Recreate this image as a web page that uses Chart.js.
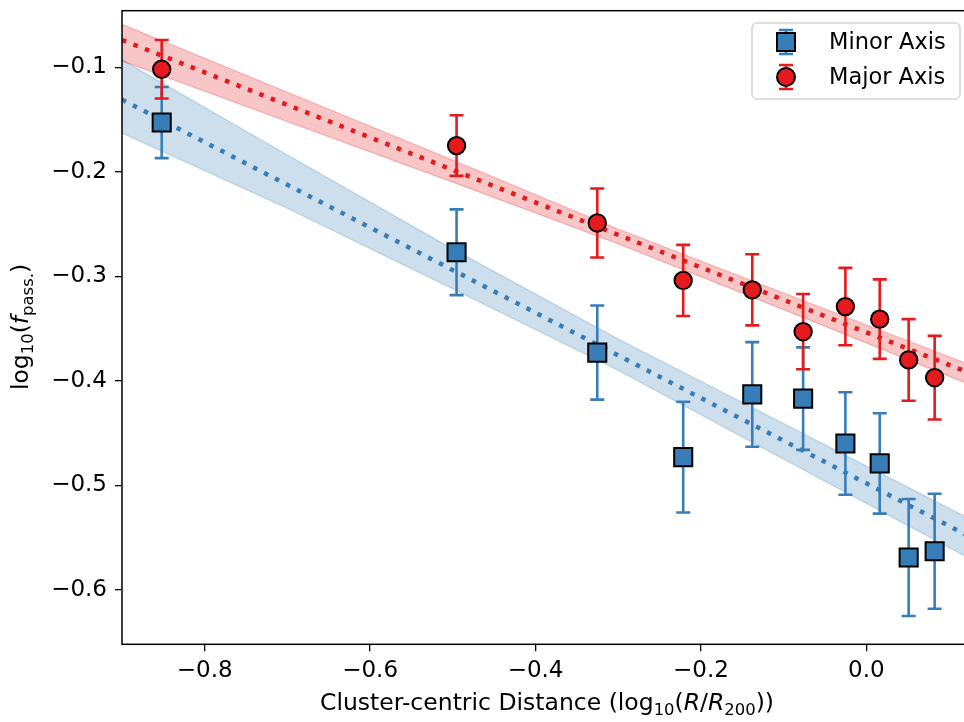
<!DOCTYPE html>
<html>
<head>
<meta charset="utf-8">
<script src="https://cdn.jsdelivr.net/npm/chart.js@4.4.1/dist/chart.umd.min.js"></script>
<style>
  html, body { margin: 0; padding: 0; background: #fff; }
  canvas { display: block; }
</style>
</head>
<body>
<canvas id="fpassChart" width="964" height="722"></canvas>
<script>
// radial bins (log10 R/R200)
const binX = [-0.852, -0.4955, -0.3254, -0.2215, -0.138, -0.0765, -0.0254, 0.0161, 0.0511, 0.0825];

// log10 passive fraction per bin, with symmetric errors
const minorY = [-0.153, -0.277, -0.373, -0.473, -0.413, -0.417, -0.460, -0.479, -0.569, -0.563];
const minorErr = [0.034, 0.041, 0.045, 0.053, 0.050, 0.049, 0.049, 0.048, 0.056, 0.055];
const majorY = [-0.102, -0.175, -0.249, -0.304, -0.313, -0.353, -0.329, -0.341, -0.380, -0.397];
const majorErr = [0.028, 0.029, 0.033, 0.034, 0.034, 0.036, 0.037, 0.038, 0.039, 0.040];

// best-fit lines
const fitX = [-0.9, 0.12];
const minorFitY = [-0.131, -0.547];
const majorFitY = [-0.074, -0.391];

// fit confidence bands
const bandX = [-0.9, -0.7, -0.5, -0.3, -0.1, 0.12];
const minorBandHi = [-0.093, -0.184, -0.274, -0.360, -0.441, -0.530];
const minorBandLo = [-0.163, -0.235, -0.312, -0.390, -0.475, -0.568];
const majorBandHi = [-0.059, -0.124, -0.189, -0.255, -0.316, -0.383];
const majorBandLo = [-0.094, -0.152, -0.210, -0.269, -0.332, -0.402];

const xTicksStep = 0.2;
const yTicksStep = 0.1;

const BLUE = '#377eb8';
const RED = '#e41a1c';
const FONT = "'DejaVu Sans', sans-serif";

const pts = (xs, ys) => xs.map((x, i) => ({ x: x, y: ys[i] }));
const fmt = v => v.toFixed(1).replace('-', '\u2212');

// vertical error bars with caps, drawn just before each marker dataset
const errorBars = {
  id: 'errorBars',
  beforeDatasetDraw(chart, args) {
    const ds = chart.data.datasets[args.index];
    if (!ds.errors) return;
    const { ctx, scales: { x, y } } = chart;
    ctx.save();
    ctx.strokeStyle = ds.errColor;
    ctx.lineWidth = 2.6;
    ds.data.forEach((p, i) => {
      const px = x.getPixelForValue(p.x);
      const top = y.getPixelForValue(p.y + ds.errors[i]);
      const bot = y.getPixelForValue(p.y - ds.errors[i]);
      ctx.beginPath();
      ctx.moveTo(px, top); ctx.lineTo(px, bot);
      ctx.moveTo(px - 7, top); ctx.lineTo(px + 7, top);
      ctx.moveTo(px - 7, bot); ctx.lineTo(px + 7, bot);
      ctx.stroke();
    });
    ctx.restore();
  }
};

function drawRich(ctx, parts, size) {
  // parts: [text, kind] where kind is '', 'it' or 'sub'
  const fontFor = k => k === 'sub' ? `${size * 0.7}px ${FONT}` :
    k === 'it' ? `oblique ${size}px ${FONT}` : `${size}px ${FONT}`;
  let total = 0;
  parts.forEach(([t, k]) => { ctx.font = fontFor(k); total += ctx.measureText(t).width; });
  let cx = -total / 2;
  parts.forEach(([t, k]) => {
    ctx.font = fontFor(k);
    ctx.fillText(t, cx, k === 'sub' ? size * 0.28 : 0);
    cx += ctx.measureText(t).width;
  });
}

// frame, axis titles and legend
const decorations = {
  id: 'decorations',
  afterDraw(chart) {
    const { ctx, chartArea: a } = chart;
    ctx.save();
    ctx.strokeStyle = '#000';
    ctx.lineWidth = 1.5;
    ctx.strokeRect(a.left, a.top, a.right - a.left + 2, a.bottom - a.top);

    ctx.fillStyle = '#000';
    ctx.textBaseline = 'middle';
    ctx.textAlign = 'left';
    ctx.save();
    ctx.translate(547, 704);
    drawRich(ctx, [['Cluster-centric Distance (log', ''], ['10', 'sub'], ['(', ''], ['R', 'it'],
      ['/', ''], ['R', 'it'], ['200', 'sub'], ['))', '']], 23.5);
    ctx.restore();
    ctx.save();
    ctx.translate(22, 327);
    ctx.rotate(-Math.PI / 2);
    drawRich(ctx, [['log', ''], ['10', 'sub'], ['(', ''], ['f', 'it'], ['pass.', 'sub'], [')', '']], 23.5);
    ctx.restore();

    // legend box
    const bx = 752, by = 23, bw = 208, bh = 76;
    ctx.beginPath();
    ctx.roundRect(bx, by, bw, bh, 5);
    ctx.fillStyle = 'rgba(255,255,255,0.8)';
    ctx.fill();
    ctx.strokeStyle = '#d4d4d4';
    ctx.lineWidth = 1.5;
    ctx.stroke();

    const entries = chart.data.datasets.filter(d => d.errors);
    entries.sort((p, q) => p.legendRank - q.legendRank);
    entries.forEach((d, i) => {
      const mx = 786, my = 42 + i * 35;
      ctx.strokeStyle = d.errColor;
      ctx.lineWidth = 2.6;
      ctx.beginPath();
      ctx.moveTo(mx, my - 12); ctx.lineTo(mx, my + 12);
      ctx.moveTo(mx - 7, my - 12); ctx.lineTo(mx + 7, my - 12);
      ctx.moveTo(mx - 7, my + 12); ctx.lineTo(mx + 7, my + 12);
      ctx.stroke();
      ctx.fillStyle = d.backgroundColor;
      ctx.strokeStyle = '#000';
      ctx.lineWidth = 2;
      ctx.beginPath();
      if (d.pointStyle === 'rect') ctx.rect(mx - 9, my - 9, 18, 18);
      else ctx.arc(mx, my, 9, 0, Math.PI * 2);
      ctx.fill();
      ctx.stroke();
      ctx.fillStyle = '#000';
      ctx.font = `22.5px ${FONT}`;
      ctx.textBaseline = 'middle';
      ctx.fillText(d.label, 829, my + 1);
    });
    ctx.restore();
  }
};

const tickFont = { family: FONT, size: 23 };

new Chart(document.getElementById('fpassChart'), {
  type: 'scatter',
  data: {
    datasets: [
      {
        label: 'Major Axis',
        data: pts(binX, majorY),
        errors: majorErr,
        errColor: RED,
        legendRank: 1,
        pointStyle: 'circle',
        pointRadius: 8.7,
        backgroundColor: RED,
        borderColor: '#000',
        borderWidth: 2,
        order: 0
      },
      {
        label: 'Minor Axis',
        data: pts(binX, minorY),
        errors: minorErr,
        errColor: BLUE,
        legendRank: 0,
        pointStyle: 'rect',
        pointRadius: 12.8,
        backgroundColor: BLUE,
        borderColor: '#000',
        borderWidth: 2,
        order: 1
      },
      {
        label: 'major fit',
        type: 'line',
        data: pts(fitX, majorFitY),
        borderColor: RED,
        borderWidth: 4.5,
        borderDash: [4.5, 7.8],
        pointRadius: 0,
        fill: false,
        order: 4
      },
      {
        label: 'minor fit',
        type: 'line',
        data: pts(fitX, minorFitY),
        borderColor: BLUE,
        borderWidth: 4.5,
        borderDash: [4.5, 7.8],
        pointRadius: 0,
        fill: false,
        order: 5
      },
      {
        label: 'major band hi',
        type: 'line',
        data: pts(bandX, majorBandHi),
        borderColor: 'rgba(228,26,28,0.25)',
        borderWidth: 1.3,
        backgroundColor: 'rgba(228,26,28,0.25)',
        pointRadius: 0,
        fill: '+1',
        order: 8
      },
      {
        label: 'major band lo',
        type: 'line',
        data: pts(bandX, majorBandLo),
        borderColor: 'rgba(228,26,28,0.25)',
        borderWidth: 1.3,
        pointRadius: 0,
        fill: false,
        order: 8
      },
      {
        label: 'minor band hi',
        type: 'line',
        data: pts(bandX, minorBandHi),
        borderColor: 'rgba(55,126,184,0.25)',
        borderWidth: 1.3,
        backgroundColor: 'rgba(55,126,184,0.25)',
        pointRadius: 0,
        fill: '+1',
        order: 9
      },
      {
        label: 'minor band lo',
        type: 'line',
        data: pts(bandX, minorBandLo),
        borderColor: 'rgba(55,126,184,0.25)',
        borderWidth: 1.3,
        pointRadius: 0,
        fill: false,
        order: 9
      }
    ]
  },
  options: {
    responsive: false,
    animation: false,
    devicePixelRatio: 1,
    layout: { autoPadding: false, padding: { top: 10.7, left: 0, right: 0, bottom: 0 } },
    plugins: {
      legend: { display: false },
      tooltip: { enabled: false }
    },
    scales: {
      x: {
        type: 'linear',
        min: -0.9,
        max: 0.118,
        afterFit: s => { s.height = 77.7; s.paddingLeft = 0; s.paddingRight = 0; },
        border: { display: false },
        grid: { drawOnChartArea: false, drawTicks: true, tickLength: 7, color: '#000', lineWidth: 1.3 },
        ticks: {
          stepSize: xTicksStep,
          includeBounds: false,
          maxRotation: 0,
          padding: 6,
          color: '#000',
          font: tickFont,
          callback: v => fmt(v)
        }
      },
      y: {
        type: 'linear',
        min: -0.652,
        max: -0.046,
        afterFit: s => { s.width = 122; s.paddingTop = 0; s.paddingBottom = 0; },
        border: { display: false },
        grid: { drawOnChartArea: false, drawTicks: true, tickLength: 7, color: '#000', lineWidth: 1.3 },
        ticks: {
          stepSize: yTicksStep,
          includeBounds: false,
          padding: 8,
          color: '#000',
          font: tickFont,
          callback: v => fmt(v)
        }
      }
    }
  },
  plugins: [errorBars, decorations]
});
</script>
</body>
</html>
